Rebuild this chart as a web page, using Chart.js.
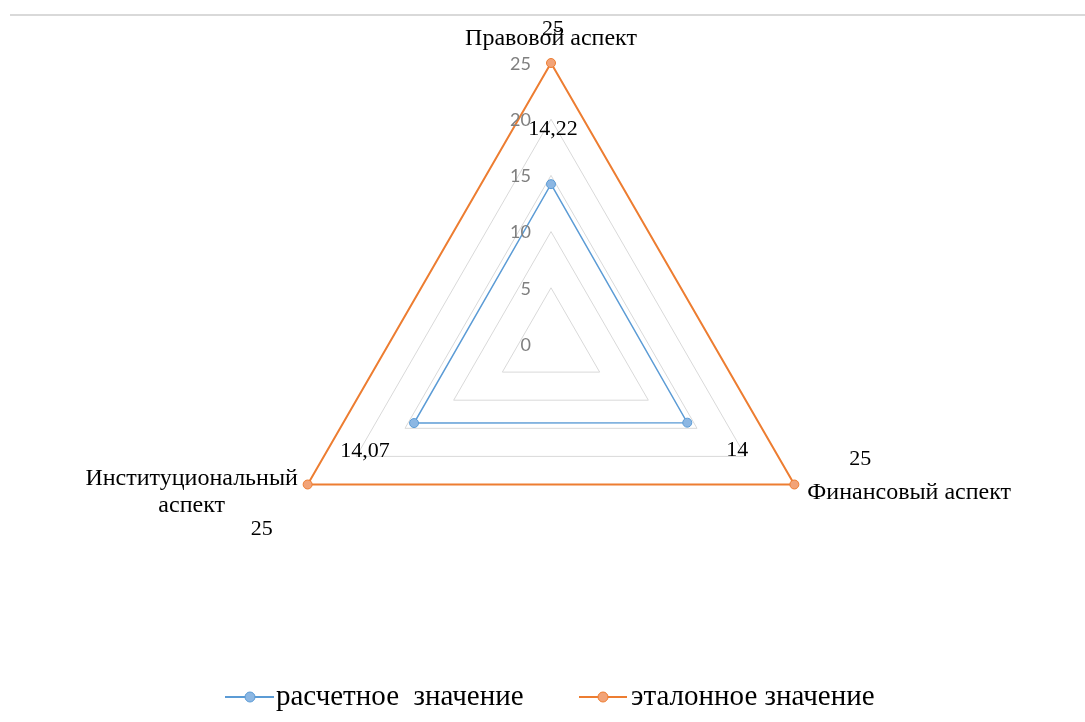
<!DOCTYPE html>
<html>
<head>
<meta charset="utf-8">
<script src="https://cdn.jsdelivr.net/npm/chart.js@4.4.1/dist/chart.umd.min.js"></script>
<style>
  html, body { margin: 0; padding: 0; background: #ffffff; }
  #wrap { width: 1085px; height: 722px; position: relative; }
</style>
</head>
<body>
<div id="wrap"><canvas id="chart" width="1085" height="722"></canvas></div>
<script>
// Axes of the radar (clockwise from the top)
const categories = ['Правовой аспект', 'Финансовый аспект', ['Институциональный', 'аспект']];
// Series
const seriesNames = ['расчетное  значение', 'эталонное значение'];
const calculatedValues = [14.22, 14, 14.07];
const referenceValues = [25, 25, 25];
// Radial scale
const tickValues = [0, 5, 10, 15, 20, 25];

const BLUE = '#5b9bd5';
const ORANGE = '#ed7d31';
const SERIF = '"Liberation Serif", "Times New Roman", serif';
const SANS = 'Lato, "Liberation Sans", sans-serif';

// Offsets of value labels from their points (px)
const valueLabelOffsets = [
  [[2, -55], [50, 28], [-49, 28]],
  [[2, -34], [66, -25], [-46, 45]]
];

const fmt = v => String(v).replace('.', ',');

const decorPlugin = {
  id: 'decor',
  beforeDraw(chart) {
    const ctx = chart.ctx;
    ctx.save();
    ctx.strokeStyle = '#d9d9d9';
    ctx.lineWidth = 2;
    ctx.beginPath();
    ctx.moveTo(10, 15);
    ctx.lineTo(1085, 15);
    ctx.stroke();
    ctx.restore();
  },
  afterDatasetsDraw(chart) {
    const ctx = chart.ctx;
    const r = chart.scales.r;
    ctx.save();

    // tick labels, left of the vertical axis
    ctx.font = '18px ' + SANS;
    ctx.fillStyle = '#7f7f7f';
    ctx.textAlign = 'right';
    ctx.textBaseline = 'middle';
    tickValues.forEach(v => {
      const y = r.yCenter - r.getDistanceFromCenterForValue(v);
      ctx.fillText(String(v), r.xCenter - 20, y + 1);
    });

    // axis names
    ctx.fillStyle = '#000000';
    ctx.font = '24px ' + SERIF;
    ctx.textBaseline = 'middle';
    const p0 = r.getPointPosition(0, r.drawingArea);
    ctx.textAlign = 'center';
    ctx.fillText(categories[0], p0.x, p0.y - 24);
    const p1 = r.getPointPosition(1, r.drawingArea);
    ctx.textAlign = 'left';
    ctx.fillText(categories[1], p1.x + 13, p1.y + 8);
    const p2 = r.getPointPosition(2, r.drawingArea);
    ctx.textAlign = 'center';
    ctx.fillText(categories[2][0], p2.x - 116, p2.y - 6);
    ctx.fillText(categories[2][1], p2.x - 116, p2.y + 21);

    // value labels
    ctx.font = '22px ' + SERIF;
    chart.data.datasets.forEach((ds, di) => {
      const meta = chart.getDatasetMeta(di);
      meta.data.forEach((pt, i) => {
        const [dx, dy] = valueLabelOffsets[di][i];
        ctx.textAlign = 'center';
        ctx.fillText(fmt(ds.data[i]), pt.x + dx, pt.y + dy);
      });
    });

    // legend
    const legendY = 697;
    const items = [
      { color: BLUE, fill: '#8cb7e3', x0: 225, x1: 274, cx: 250, tx: 276, text: seriesNames[0] },
      { color: ORANGE, fill: '#f2a377', x0: 579, x1: 627, cx: 603, tx: 631, text: seriesNames[1] }
    ];
    ctx.font = '29px ' + SERIF;
    ctx.textAlign = 'left';
    items.forEach(it => {
      ctx.strokeStyle = it.color;
      ctx.lineWidth = 2;
      ctx.beginPath();
      ctx.moveTo(it.x0, legendY);
      ctx.lineTo(it.x1, legendY);
      ctx.stroke();
      ctx.beginPath();
      ctx.arc(it.cx, legendY, 5, 0, Math.PI * 2);
      ctx.fillStyle = it.fill;
      ctx.fill();
      ctx.lineWidth = 1;
      ctx.stroke();
      ctx.fillStyle = '#000000';
      ctx.fillText(it.text, it.tx, legendY);
    });
    ctx.restore();
  }
};

new Chart(document.getElementById('chart'), {
  type: 'radar',
  data: {
    labels: categories,
    datasets: [
      {
        label: seriesNames[0],
        data: calculatedValues,
        borderColor: BLUE,
        borderWidth: 1.5,
        backgroundColor: 'rgba(0,0,0,0)',
        fill: false,
        pointBackgroundColor: '#8cb7e3',
        pointBorderColor: BLUE,
        pointBorderWidth: 1,
        pointRadius: 4.5,
        tension: 0
      },
      {
        label: seriesNames[1],
        data: referenceValues,
        borderColor: ORANGE,
        borderWidth: 2,
        backgroundColor: 'rgba(0,0,0,0)',
        fill: false,
        pointBackgroundColor: '#f2a377',
        pointBorderColor: ORANGE,
        pointBorderWidth: 1,
        pointRadius: 4.5,
        tension: 0
      }
    ]
  },
  options: {
    responsive: false,
    animation: false,
    layout: { padding: { top: 63, bottom: 97, left: 270, right: 253 } },
    plugins: { legend: { display: false }, tooltip: { enabled: false } },
    scales: {
      r: {
        min: 0,
        max: 25,
        beginAtZero: true,
        ticks: { display: false, stepSize: 5 },
        pointLabels: { display: false },
        angleLines: { display: false },
        grid: { color: '#d9d9d9', lineWidth: 1, circular: false }
      }
    }
  },
  plugins: [decorPlugin]
});
</script>
</body>
</html>
